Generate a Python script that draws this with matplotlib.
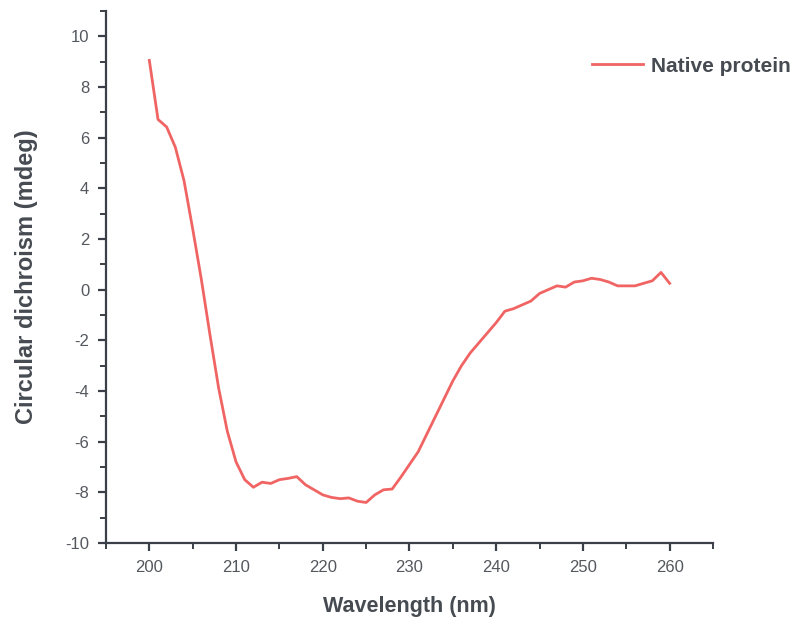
import matplotlib
matplotlib.use("Agg")
import matplotlib.pyplot as plt
from matplotlib.ticker import MultipleLocator

wavelength = list(range(200, 261))
cd_native = [9.05, 6.72, 6.42, 5.62, 4.3, 2.4, 0.4, -1.8, -3.9, -5.6,
             -6.8, -7.5, -7.8, -7.6, -7.65, -7.5, -7.45, -7.38, -7.7, -7.9,
             -8.1, -8.2, -8.25, -8.22, -8.35, -8.4, -8.1, -7.9, -7.87, -7.4,
             -6.9, -6.4, -5.7, -5.0, -4.3, -3.6, -3.0, -2.5, -2.1, -1.7,
             -1.3, -0.85, -0.75, -0.6, -0.45, -0.15, 0.0, 0.15, 0.1, 0.3,
             0.35, 0.45, 0.4, 0.3, 0.15, 0.15, 0.15, 0.25, 0.35, 0.68, 0.25]
series_label = "Native protein"

text_color = "#464b52"
tick_label_color = "#54585e"
line_color = "#f06464"
plt.rcParams['font.family'] = ['Liberation Sans', 'DejaVu Sans']
plt.rcParams['axes.unicode_minus'] = False

fig = plt.figure(figsize=(7.98, 6.24), dpi=100)
ax = fig.add_axes([0.1328, 0.1298, 0.7607, 0.8526])
ln, = ax.plot(wavelength, cd_native, color=line_color, lw=2.0, label=series_label)

ax.set_xlim(195, 265)
ax.set_ylim(-10, 11)
ax.xaxis.set_minor_locator(MultipleLocator(5))
ax.set_xticks(range(200, 261, 10))
ax.yaxis.set_minor_locator(MultipleLocator(1))
ax.set_yticks(range(-10, 11, 2))

for s in ['top', 'right']:
    ax.spines[s].set_visible(False)
for s in ['left', 'bottom']:
    ax.spines[s].set_color("#3b4048")
    ax.spines[s].set_linewidth(1.6)
ax.tick_params(which='major', direction='out', length=6, width=1.6, colors="#3b4048",
               labelsize=12, labelcolor=tick_label_color, pad=6)
ax.tick_params(which='minor', direction='out', length=4, width=1.4, colors="#3b4048")

ax.set_xlabel("Wavelength (nm)", fontsize=15.5, fontweight='bold', color=text_color, labelpad=15)
ax.set_ylabel("Circular dichroism (mdeg)", fontsize=17, fontweight='bold', color=text_color, labelpad=20)

fig.legend(handles=[ln], loc='center left', bbox_to_anchor=(0.718, 0.894), frameon=False,
           prop={'size': 15, 'weight': 'bold'}, labelcolor=text_color, handlelength=2.45,
           handletextpad=0.4)

fig.savefig("out.png", dpi=100)
